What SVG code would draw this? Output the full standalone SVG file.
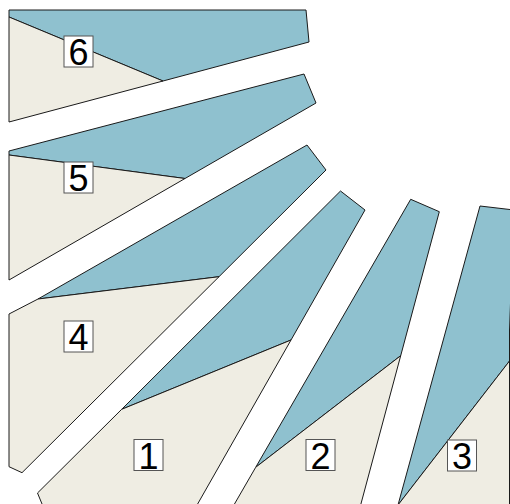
<svg xmlns="http://www.w3.org/2000/svg" width="510" height="504" viewBox="0 0 510 504">
<style>
.b{fill:#8fc1cf;stroke:#1a1a1a;stroke-width:1;stroke-linejoin:round}
.t{fill:#efede3;stroke:#1a1a1a;stroke-width:1;stroke-linejoin:round}
.lb{fill:#ffffff;stroke:#555555;stroke-width:1}
.lt{font-family:"Liberation Sans",Arial,sans-serif;font-size:36px;fill:#000000;text-anchor:middle}
</style>
<rect width="510" height="504" fill="#ffffff"/>
<g id="seg6">
<polygon class="b" points="9,10 306,10 309,42 163,81 9,17"/>
<polygon class="t" points="9,17 163,81 9,122"/>
<rect class="lb" x="64" y="36" width="29" height="31"/>
<text class="lt" x="78.5" y="64.5">6</text>
</g>
<g id="seg5">
<polygon class="b" points="9,151 304,74 316,103 185,178.5 9,155"/>
<polygon class="t" points="9,155 185,178.5 9,280"/>
<rect class="lb" x="64" y="162" width="29" height="31"/>
<text class="lt" x="78.5" y="190.5">5</text>
</g>
<g id="seg4">
<polygon class="b" points="38,299 307,145 326,170 219,276.7"/>
<polygon class="t" points="9,314 38,299 219,276.7 22,472.7 9,466.7"/>
<rect class="lb" x="64" y="321" width="29" height="31"/>
<text class="lt" x="78.5" y="349.5">4</text>
</g>
<g id="seg1">
<polygon class="b" points="121.7,409.3 340.5,191 365,210 291,340"/>
<polygon class="t" points="121.7,409.3 291,340 194.2,510 44.5,510 37.5,493"/>
<rect class="lb" x="134" y="439.5" width="29" height="31"/>
<text class="lt" x="148.5" y="468.5">1</text>
</g>
<g id="seg2">
<polygon class="b" points="410.7,199.3 439.3,211.7 400.7,355.7 255.7,467.3"/>
<polygon class="t" points="255.7,467.3 400.7,355.7 359.3,510 231,510"/>
<rect class="lb" x="306" y="439.5" width="29" height="31"/>
<text class="lt" x="320.5" y="468.5">2</text>
</g>
<g id="seg3">
<polygon class="b" points="480,206 514,210 509.5,330 509.5,361 398,505"/>
<polygon class="t" points="398,505 509.5,361 509.5,515 395,515"/>
<rect class="lb" x="447.5" y="440" width="29" height="31"/>
<text class="lt" x="462" y="469">3</text>
</g>
<g id="connectors"/>
</svg>
